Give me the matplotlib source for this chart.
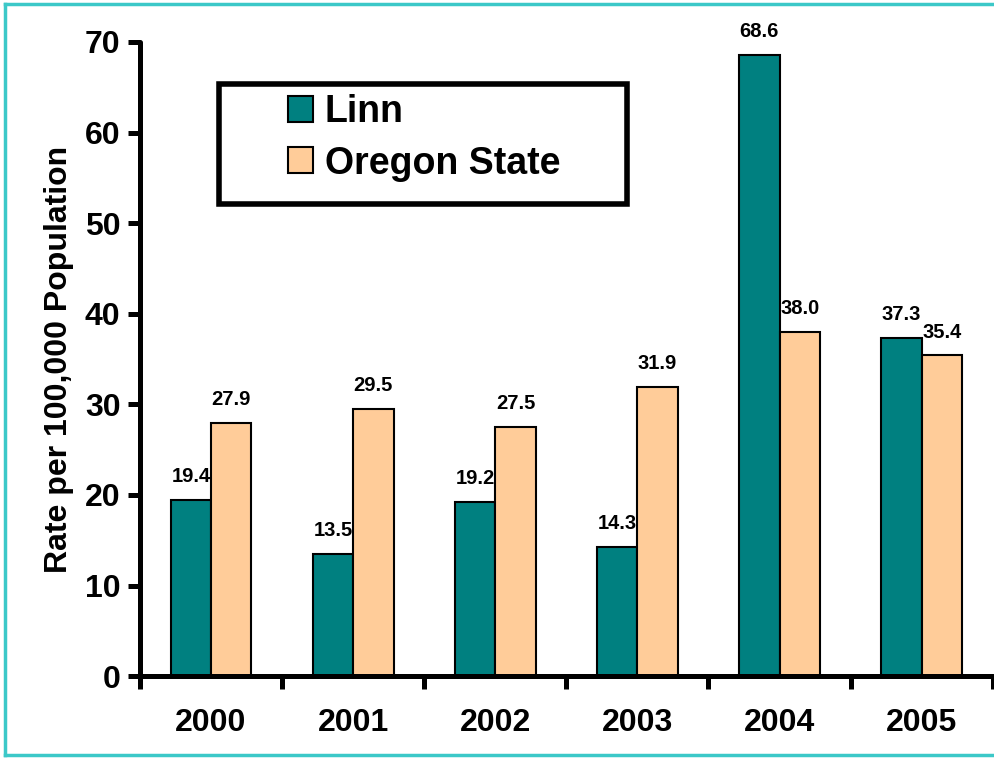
import numpy as np
import matplotlib
matplotlib.use("Agg")
import matplotlib.pyplot as plt
from matplotlib.lines import Line2D
from matplotlib.patches import Rectangle

plt.rcParams['font.family'] = ['Liberation Sans', 'DejaVu Sans']
plt.rcParams['font.weight'] = 'bold'

years = ['2000', '2001', '2002', '2003', '2004', '2005']
linn = [19.4, 13.5, 19.2, 14.3, 68.6, 37.3]
oregon = [27.9, 29.5, 27.5, 31.9, 38.0, 35.4]

W, H = 995, 758
fig = plt.figure(figsize=(W / 100, H / 100), dpi=100)
ax = fig.add_axes([0.1407, 0.108, 0.857, 0.8366])

x = np.arange(len(years))
w = 0.284
b1 = ax.bar(x - w / 2, linn, w, color='#008080', edgecolor='black', linewidth=1.5, label='Linn')
b2 = ax.bar(x + w / 2, oregon, w, color='#FFCC99', edgecolor='black', linewidth=1.5, label='Oregon State')

for bars, vals in [(b1, linn), (b2, oregon)]:
    for r, v in zip(bars, vals):
        ax.annotate('%.1f' % v, (r.get_x() + r.get_width() / 2, v), xytext=(0, 10),
                    textcoords='offset points', ha='center', va='bottom',
                    fontsize=14.5, fontweight='bold')

ax.set_xlim(-0.5, 5.5)
ax.set_ylim(0, 70)
ax.set_yticks(range(0, 71, 10))
ax.set_xticks(x)
ax.set_xticklabels(years)
ax.set_xticks(np.arange(-0.5, 5.6, 1), minor=True)
ax.tick_params(axis='x', which='major', length=0, pad=23, labelsize=23)
ax.tick_params(axis='x', which='minor', length=9, width=3.6, direction='out')
ax.tick_params(axis='y', length=9, width=3.6, direction='out', labelsize=23, pad=5)
for t in ax.get_xticklabels() + ax.get_yticklabels():
    t.set_fontweight('bold')

for s in ['top', 'right']:
    ax.spines[s].set_visible(False)
for s in ['left', 'bottom']:
    ax.spines[s].set_linewidth(3.6)
    ax.spines[s].set_capstyle('round')

ax.set_ylabel('Rate per 100,000 Population', fontsize=23, fontweight='bold', labelpad=8)

# legend content without frame, frame drawn as a box around it
leg = fig.legend(handles=[b1, b2], loc='center left', bbox_to_anchor=(288 / W, 1 - 138 / H),
                 fontsize=27, frameon=False, borderpad=0, borderaxespad=0,
                 handlelength=0.68, handleheight=0.68, handletextpad=0.3,
                 labelspacing=0.4)
for t in leg.get_texts():
    t.set_fontweight('bold')
for h in leg.legend_handles:
    h.set_linewidth(1.5)
fig.add_artist(Rectangle((219 / W, 1 - 204 / H), 408 / W, 120 / H, transform=fig.transFigure,
                         fill=False, edgecolor='black', linewidth=4, joinstyle='miter'))

# cyan frame around the picture
c = '#3CC8C8'
fig.add_artist(Line2D([0.005, 0.005], [0.004, 0.995], color=c, lw=2.5, transform=fig.transFigure))
fig.add_artist(Line2D([0.005, 1.0], [0.995, 0.995], color=c, lw=2.5, transform=fig.transFigure))
fig.add_artist(Line2D([0.005, 1.0], [0.004, 0.004], color=c, lw=2.5, transform=fig.transFigure))

fig.savefig('out.png', dpi=100)
